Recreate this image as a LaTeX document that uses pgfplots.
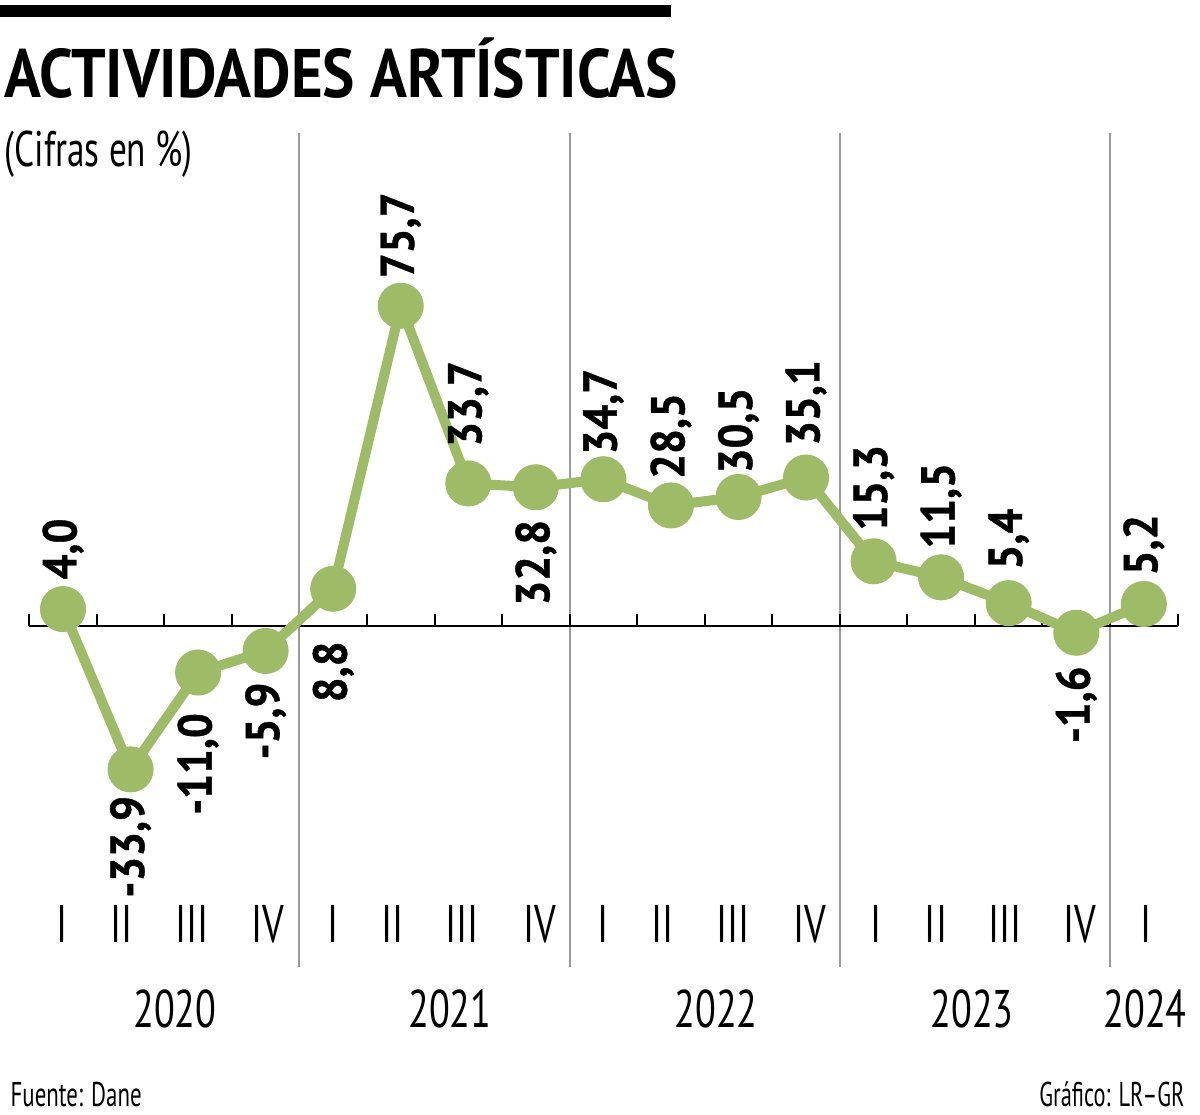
\documentclass[border=0pt]{standalone}
\usepackage{pgfplots}
\pgfplotsset{compat=1.18}
\usepackage{pgfplotstable}
\usepackage{graphicx}
\usepackage{fontspec}
\setmainfont{PT Sans}
\newfontfamily\lblfont[FakeStretch=0.92, FakeBold=0.8]{PT Sans}
\newfontfamily\condfont[FakeStretch=0.72]{PT Sans}
\definecolor{lrgreen}{RGB}{158,188,104}
\definecolor{sepgray}{RGB}{155,155,155}

\pgfplotstableread{
x y
0 4.0
1 -33.9
2 -11.0
3 -5.9
4 8.8
5 75.7
6 33.7
7 32.8
8 34.7
9 28.5
10 30.5
11 35.1
12 15.3
13 11.5
14 5.4
15 -1.6
16 5.2
}\datatab

\pgfplotstableread{
x y lbl gap
0 4.0 4,0 8.7
5 75.7 75,7 8.1
6 33.7 33,7 10.8
8 34.7 34,7 7.2
9 28.5 28,5 7.8
10 30.5 30,5 6.9
11 35.1 35,1 9.3
12 15.3 15,3 9.0
13 11.5 11,5 8.4
14 5.4 5,4 9.9
16 5.2 5,2 8.4
}\abovetab

\pgfplotstableread{
x y lbl gap
1 -33.9 -33,9 7.8
2 -11.0 -11,0 12.0
3 -5.9 -5,9 9.3
4 8.8 8,8 15.6
7 32.8 32,8 9.6
15 -1.6 -1,6 9.9
}\belowtab

\begin{document}
\begin{tikzpicture}
\begin{axis}[
  scale only axis,
  width=344.5pt, height=250.1pt,
  xmin=-0.5, xmax=16.5, ymin=-80.6, ymax=116.5,
  hide axis, clip=false,
]
% bounding box = full image
\path (axis cs:-0.9327,148.0) rectangle (axis cs:16.832,-115.6);
% top bar
\fill[black] (axis cs:-0.9327,146.88) rectangle (axis cs:9.0,144.04);
% title
\node[anchor=base west, inner sep=0pt] at (axis cs:-0.8734,125.06)
  {\resizebox{201.9pt}{\height}{\fontsize{20.6}{20.6}\selectfont\bfseries ACTIVIDADES ARTÍSTICAS}};
\node[anchor=base west, inner sep=0pt] at (axis cs:-0.8734,108.75)
  {\resizebox{56.4pt}{\height}{\fontsize{15}{15}\selectfont (Cifras en \%)}};
% separators
\draw[sepgray, line width=0.6pt] (axis cs:3.5,-80.6) -- (axis cs:3.5,116.5);
\draw[sepgray, line width=0.6pt] (axis cs:7.5,-80.6) -- (axis cs:7.5,116.5);
\draw[sepgray, line width=0.6pt] (axis cs:11.5,-80.6) -- (axis cs:11.5,116.5);
\draw[sepgray, line width=0.6pt] (axis cs:15.5,-80.6) -- (axis cs:15.5,116.5);
% zero line and ticks
\draw[black, line width=0.6pt] (axis cs:-0.5,0) -- (axis cs:16.5,0);
\addplot[black, line width=0.6pt, ycomb, mark=none, forget plot] coordinates {
 (-0.5,2.84) (0.5,2.84) (1.5,2.84) (2.5,2.84) (3.5,2.84) (4.5,2.84)
 (5.5,2.84) (6.5,2.84) (7.5,2.84) (8.5,2.84) (9.5,2.84) (10.5,2.84)
 (11.5,2.84) (12.5,2.84) (13.5,2.84) (14.5,2.84) (15.5,2.84) (16.5,2.84)};
% data
\addplot[lrgreen, line width=3pt, mark=*, mark size=5.4pt,
  mark options={draw=none, fill=lrgreen}] table[x=x, y=y]{\datatab};
% labels above
\addplot[draw=none, mark=none, nodes near coords, point meta=explicit symbolic,
  visualization depends on={\thisrow{gap} \as \gap},
  nodes near coords style={font=\lblfont\bfseries\fontsize{14.3}{14.3}\selectfont,
    text=black, rotate=90, anchor=west, inner ysep=0pt, inner xsep=\gap pt}]
  table[x=x, y=y, meta=lbl]{\abovetab};
% labels below
\addplot[draw=none, mark=none, nodes near coords, point meta=explicit symbolic,
  visualization depends on={\thisrow{gap} \as \gap},
  nodes near coords style={font=\lblfont\bfseries\fontsize{14.3}{14.3}\selectfont,
    text=black, rotate=90, anchor=east, inner ysep=0pt, inner xsep=\gap pt}]
  table[x=x, y=y, meta=lbl]{\belowtab};
% quarter labels
\begin{scope}[every node/.style={anchor=base, inner sep=0pt, font=\condfont\fontsize{15.9}{15.9}\selectfont}]
\node at (axis cs:-0.015,-74.94) {I};
\node at (axis cs:0.873,-74.94) {II};
\node at (axis cs:1.910,-74.94) {III};
\node at (axis cs:3.035,-74.94) {IV};
\node at (axis cs:3.997,-74.94) {I};
\node at (axis cs:4.885,-74.94) {II};
\node at (axis cs:5.907,-74.94) {III};
\node at (axis cs:7.061,-74.94) {IV};
\node at (axis cs:7.994,-74.94) {I};
\node at (axis cs:8.882,-74.94) {II};
\node at (axis cs:9.919,-74.94) {III};
\node at (axis cs:11.058,-74.94) {IV};
\node at (axis cs:12.036,-74.94) {I};
\node at (axis cs:12.924,-74.94) {II};
\node at (axis cs:13.945,-74.94) {III};
\node at (axis cs:15.055,-74.94) {IV};
\node at (axis cs:16.033,-74.94) {I};
% years
\node at (axis cs:1.658,-95.04) {2020};
\node at (axis cs:5.729,-95.04) {2021};
\node at (axis cs:9.667,-95.04) {2022};
\node at (axis cs:13.457,-95.04) {2023};
\node at (axis cs:16.018,-95.04) {2024};
\end{scope}
% footer
\node[anchor=base west, inner sep=0pt] at (axis cs:-0.7846,-113.71)
  {\resizebox{39.3pt}{\height}{\fontsize{10.3}{10.3}\selectfont Fuente: Dane}};
\node[anchor=base east, inner sep=0pt] at (axis cs:16.612,-113.71)
  {\resizebox{43.5pt}{\height}{\fontsize{10.3}{10.3}\selectfont Gráfico: LR–GR}};
\end{axis}
\end{tikzpicture}
\end{document}
